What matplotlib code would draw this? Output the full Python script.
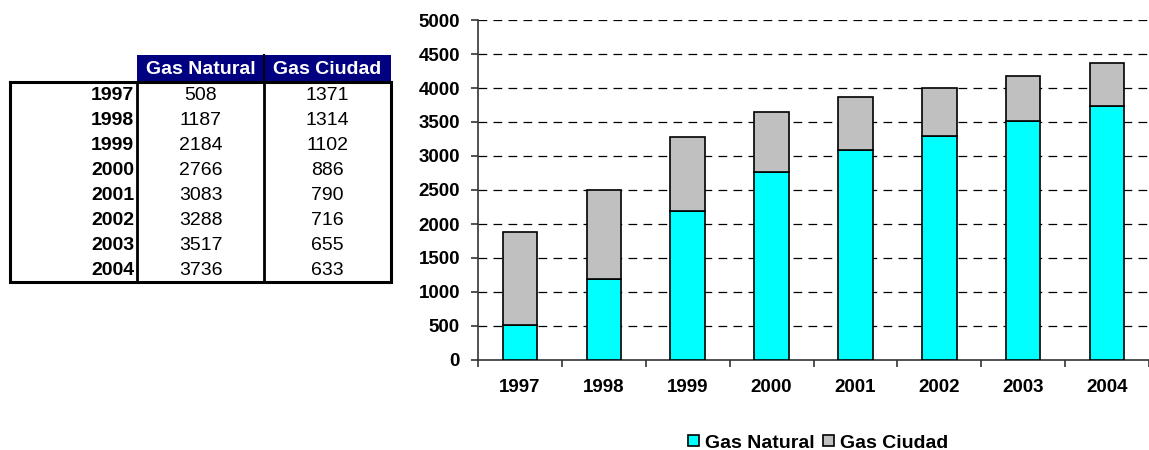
import matplotlib
matplotlib.use("Agg")
import matplotlib.pyplot as plt
import matplotlib.patches as mpatches
import numpy as np

years = ["1997", "1998", "1999", "2000", "2001", "2002", "2003", "2004"]
gas_natural = [508, 1187, 2184, 2766, 3083, 3288, 3517, 3736]
gas_ciudad = [1371, 1314, 1102, 886, 790, 716, 655, 633]
series_names = ["Gas Natural", "Gas Ciudad"]
yticks = list(range(0, 5001, 500))

plt.rcParams['font.family'] = ['Liberation Sans', 'DejaVu Sans']

W, H = 1149, 450
fig = plt.figure(figsize=(W / 100, H / 100), dpi=100)

# ---- table overlay (pixel coordinates) ----
ov = fig.add_axes([0, 0, 1, 1])
ov.set_xlim(0, W)
ov.set_ylim(H, 0)
ov.axis('off')
ov.patch.set_alpha(0)

x0, x1, x2, x3 = 10, 137, 264, 391
yh0, yh1 = 55, 82
rowh = 25
ybot = yh1 + rowh * len(years)
navy = '#000080'
ov.add_patch(mpatches.Rectangle((x1, yh0), x3 - x1, yh1 - yh0, facecolor=navy, edgecolor='none'))
ov.plot([x2, x2], [yh0, yh1], color='black', lw=1.5)
for i, name in enumerate(series_names):
    cx = (x1 + x2) / 2 if i == 0 else (x2 + x3) / 2
    ov.text(cx, (yh0 + yh1) / 2 + 1, name, color='white', fontsize=14, fontweight='bold',
            ha='center', va='center')
# frame
ov.plot([x0, x3, x3, x0, x0], [yh1, yh1, ybot, ybot, yh1], color='black', lw=2.2, solid_joinstyle='miter')
ov.plot([x1, x1], [yh1, ybot], color='black', lw=2)
ov.plot([x2, x2], [yh1, ybot], color='black', lw=2)
for i, y in enumerate(years):
    cy = yh1 + rowh * i + rowh / 2 + 1
    ov.text(x1 - 3, cy, y, fontsize=14, fontweight='bold', ha='right', va='center')
    ov.text((x1 + x2) / 2, cy, str(gas_natural[i]), fontsize=14, ha='center', va='center')
    ov.text((x2 + x3) / 2, cy, str(gas_ciudad[i]), fontsize=14, ha='center', va='center')

# ---- chart ----
left, top, bottom = 478, 20, 360
ax = fig.add_axes([left / W, (H - bottom) / H, (W - left) / W, (bottom - top) / H])
ax.patch.set_alpha(0)
x = np.arange(len(years))
bw = 0.41
b1 = ax.bar(x, gas_natural, width=bw, color='#00FFFF', edgecolor='black', linewidth=1.2,
            label=series_names[0], zorder=3)
b2 = ax.bar(x, gas_ciudad, width=bw, bottom=gas_natural, color='#C0C0C0', edgecolor='black',
            linewidth=1.2, label=series_names[1], zorder=3)
scale = 85.0
ax.set_xlim(-0.5, -0.5 + (W - left) / scale)
ax.set_ylim(0, 5000)
ax.set_yticks(yticks)
ax.set_yticklabels([str(v) for v in yticks], fontsize=13.5, fontweight='bold')
for v in yticks[1:]:
    ax.axhline(v, color='black', lw=0.9, ls=(0, (7, 5)), zorder=1)
ax.set_xticks(np.arange(-0.5, len(years) + 0.5, 1.0))
ax.set_xticklabels([])
ax.set_xticks(x, minor=True)
ax.set_xticklabels(years, minor=True, fontsize=13.5, fontweight='bold')
ax.tick_params(axis='x', which='major', length=5, width=1.2, direction='out', color='#333333')
ax.tick_params(axis='x', which='minor', length=0, pad=14)
ax.tick_params(axis='y', length=5, width=1.2, direction='out', pad=8, color='#333333')
for s in ['top', 'right']:
    ax.spines[s].set_visible(False)
ax.spines['left'].set_color('#333333')
ax.spines['bottom'].set_color('#333333')
ax.spines['left'].set_linewidth(1.2)
ax.spines['bottom'].set_linewidth(1.2)

fig.legend(handles=[b1, b2], labels=series_names, loc='center', bbox_to_anchor=(818 / W, 1 - 443 / H),
           ncol=2, frameon=False, prop={'size': 14, 'weight': 'bold'}, handlelength=0.55,
           handleheight=0.55, handletextpad=0.3, columnspacing=0.45, borderpad=0)

fig.savefig("out.png", dpi=100)
